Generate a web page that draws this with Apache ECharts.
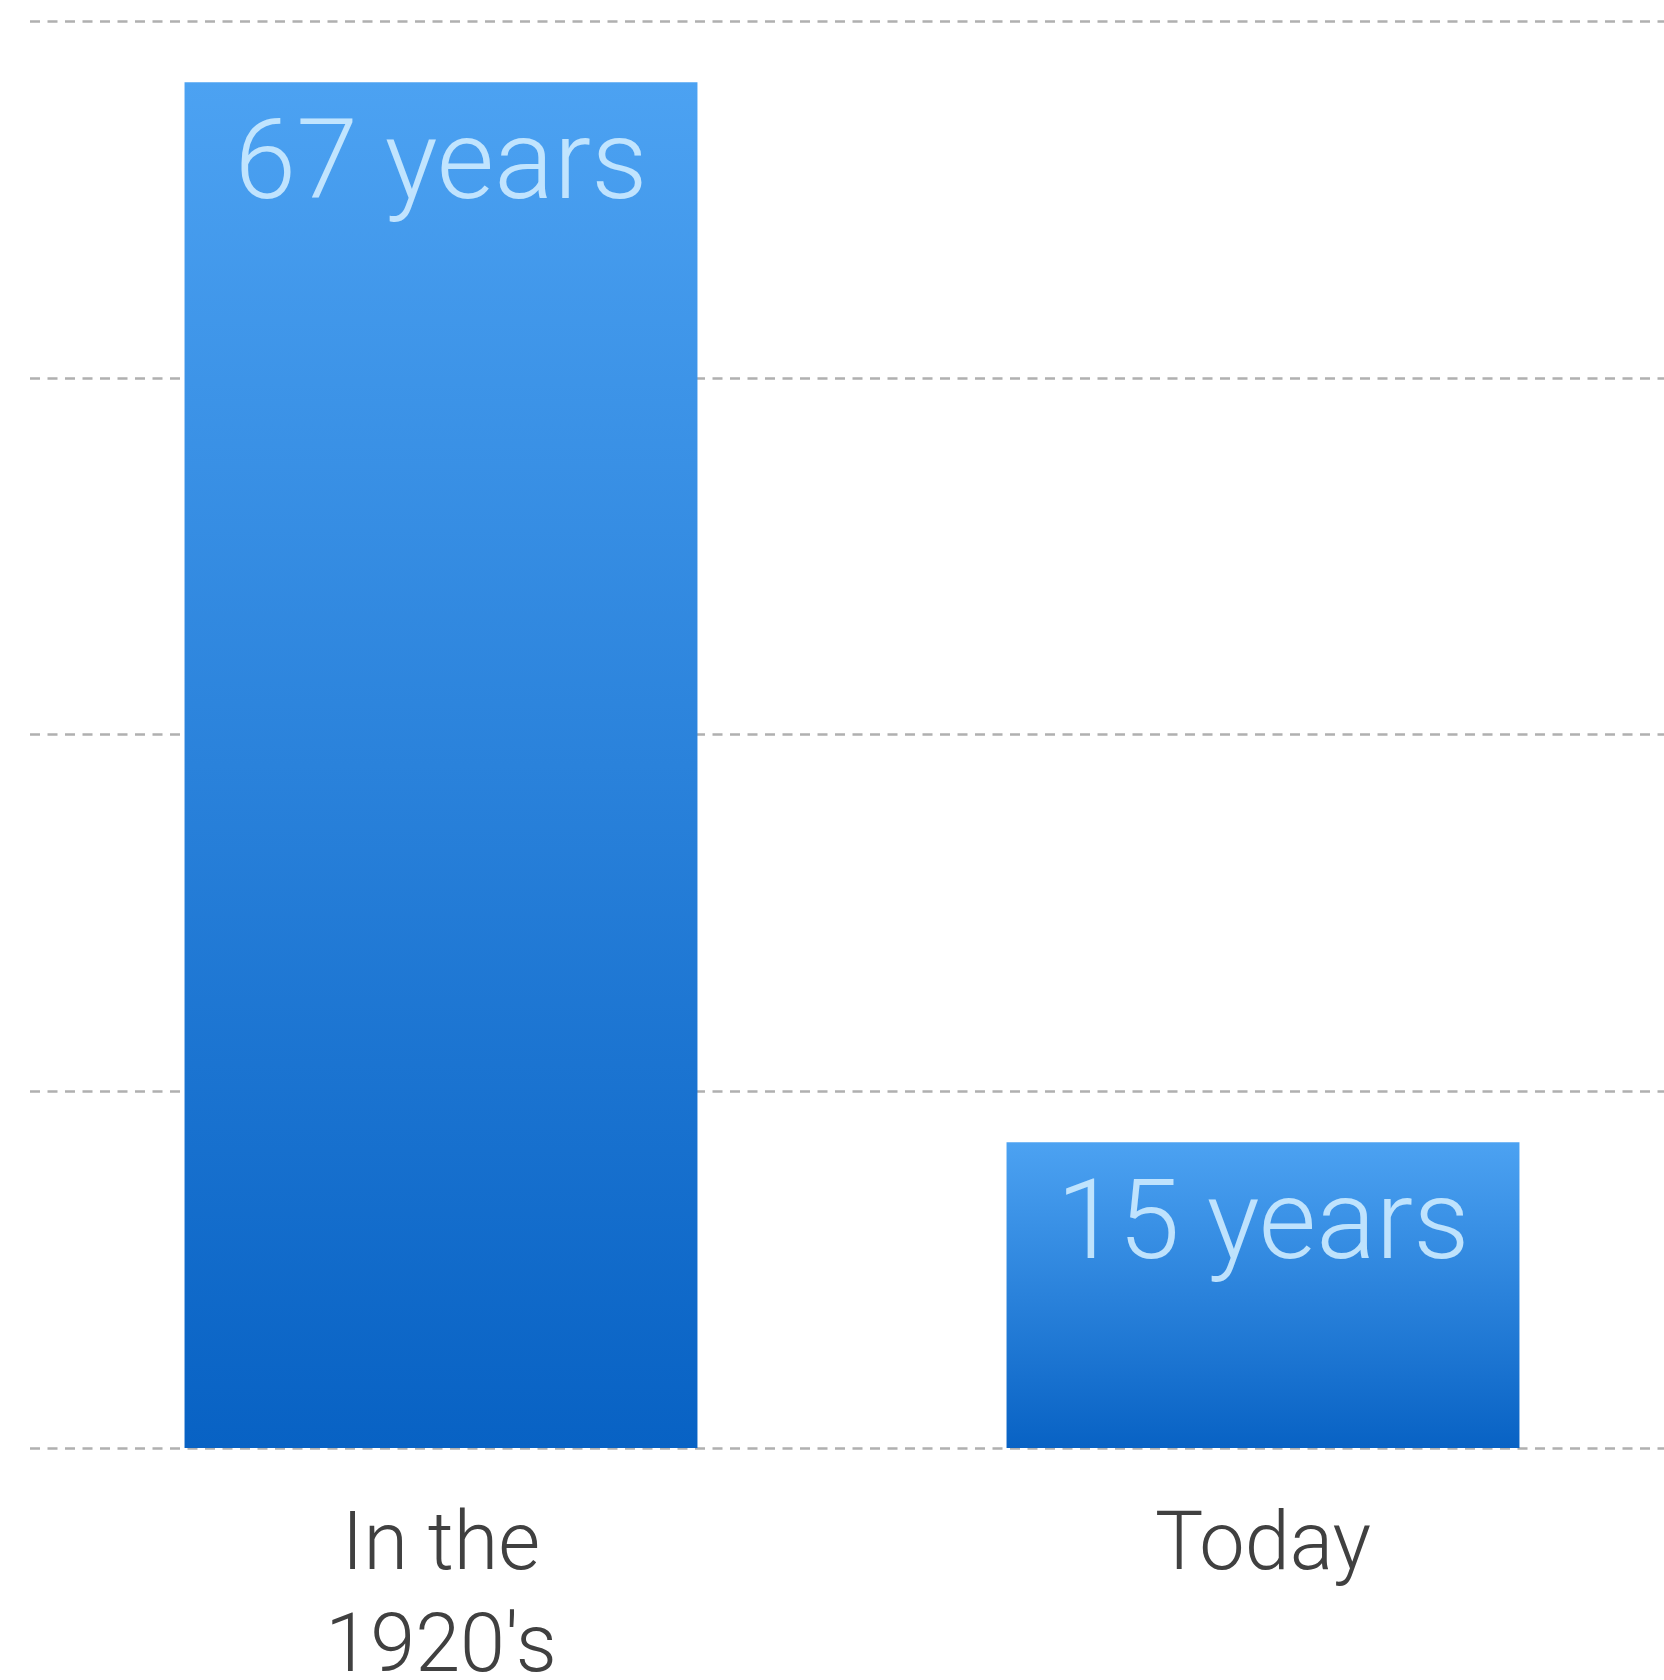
<!DOCTYPE html>
<html>
<head>
<meta charset="utf-8">
<script src="https://cdn.jsdelivr.net/npm/echarts@6/dist/echarts.min.js"></script>
<style>html,body{margin:0;padding:0;background:#fff}#c{width:1664px;height:1680px}</style>
</head>
<body>
<div id="c"></div>
<script>
const categories = ["In the\n1920's", "Today"];
const values = [67, 15];
const valueLabels = ["67 years", "15 years"];

const chart = echarts.init(document.getElementById('c'), null, {renderer: 'canvas'});
chart.setOption({
  backgroundColor: '#ffffff',
  animation: false,
  grid: {left: 30, width: 1644, top: 21, bottom: 232, containLabel: false, outerBoundsMode: 'none'},
  xAxis: {
    type: 'category',
    data: categories,
    axisLine: {show: false},
    axisTick: {show: false},
    axisLabel: {
      fontFamily: 'Roboto',
      fontWeight: 300,
      fontSize: 81,
      lineHeight: 102,
      color: '#404040',
      margin: 50
    }
  },
  yAxis: {
    type: 'value',
    min: 0,
    max: 70,
    interval: 17.5,
    axisLabel: {show: false},
    axisLine: {show: false},
    axisTick: {show: false},
    splitLine: {
      show: true,
      lineStyle: {color: '#b0b0b0', width: 2.5, type: [10, 7.5]}
    }
  },
  series: [{
    type: 'bar',
    data: values,
    barWidth: '62.4%',
    itemStyle: {
      color: new echarts.graphic.LinearGradient(0, 0, 0, 1, [
        {offset: 0, color: '#4ca2f2'},
        {offset: 1, color: '#0862c4'}
      ])
    },
    label: {
      show: true,
      position: 'insideTop',
      distance: 33,
      formatter: p => valueLabels[p.dataIndex],
      fontFamily: 'Roboto',
      fontWeight: 300,
      fontSize: 111,
      color: 'rgba(205,235,255,0.9)'
    },
    z: 3
  }]
});
</script>
</body>
</html>
